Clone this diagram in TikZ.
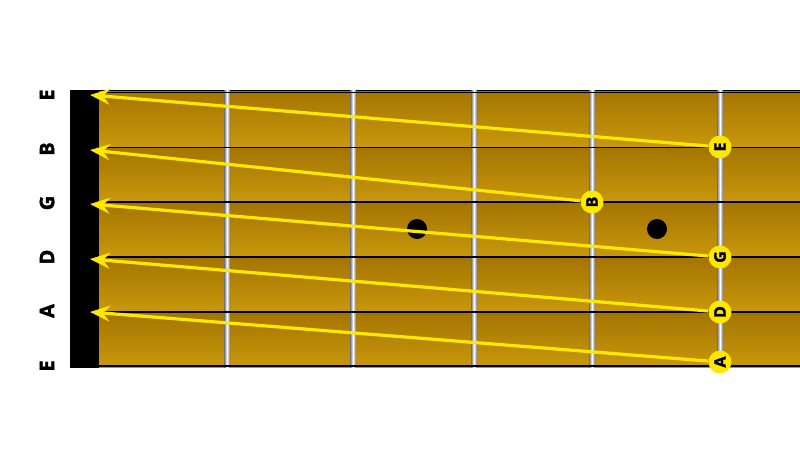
\documentclass[tikz,border=0pt]{standalone}
\usepackage{fontspec}
\setsansfont{Open Sans}
\newfontfamily\heavyfont[BoldFeatures={FakeBold=1.6}]{Open Sans}
\usetikzlibrary{arrows.meta}
\usetikzlibrary{positioning}
\definecolor{wooddark}{RGB}{164,116,2}
\definecolor{woodlight}{RGB}{200,152,12}
\definecolor{noteyellow}{RGB}{255,232,0}
\definecolor{fretgray}{RGB}{110,110,118}

\begin{document}
\begin{tikzpicture}[x=1pt,y=-1pt,
			every node/.style={inner sep=0pt},
			note/.style={circle,fill=noteyellow,minimum size=23pt,font=\heavyfont\bfseries\fontsize{16}{16}\selectfont,rotate=90},
			stringname/.style={font=\heavyfont\bfseries\fontsize{20}{20}\selectfont,rotate=90},
			slide/.style={-{Stealth[length=20pt,width=16pt,inset=7pt]},draw=noteyellow,fill=noteyellow,line width=3.2pt}]
			\useasboundingbox (0,0) rectangle (800,450);
			
			% wood, one strip per string
			\foreach \ya/\yb in {90/147,147/202,202/257,257/312,312/367}
			\shade[top color=wooddark,bottom color=woodlight] (99,\ya) rectangle (800,\yb);
			\draw[black,line width=0.8pt] (70,90) -- (800,90);
			
			% frets
			\foreach \fx in {227,353,474,592,720}
			\shade[left color=fretgray,right color=fretgray,middle color=white] (\fx-3,90) rectangle (\fx+3,367);
			
			% strings
			\foreach \sy/\sw in {92/0.8,147/1,202/1.3,257/1.7,312/2.1,366/2.6}
			\draw[black,line width=\sw pt] (99,\sy) -- (800,\sy);
			
			% nut
			\fill[black] (70,90) rectangle (99,368);
			
			% inlay dots
			\fill[black] (417,229) circle (10);
			\fill[black] (657,229) circle (10);
			
			% open string names
			\node[stringname] (lE1) at (47,95)  {E};
			\node[stringname] (lB)  at (47,149) {B};
			\node[stringname] (lG)  at (47,203) {G};
			\node[stringname] (lD)  at (47,257) {D};
			\node[stringname] (lA)  at (47,311) {A};
			\node[stringname] (lE6) at (47,366) {E};
			
			% arrow ends at the nut
			\coordinate (tE) at (90,95);
			\coordinate (tB) at (90,150);
			\coordinate (tG) at (90,204);
			\coordinate (tD) at (90,259);
			\coordinate (tA) at (90,312);
			
			% fretted notes
			\node[note] (nE) at (720,147) {E};
			\node[note] (nB) at (592,202) {B};
			\node[note] (nG) at (720,257) {G};
			\node[note] (nD) at (720,312) {D};
			\node[note] (nA) at (720,362) {A};
			
			\path[slide]
			(nE) edge (tE)
			(nB) edge (tB)
			(nG) edge (tG)
			(nD) edge (tD)
			(nA) edge (tA);
			\end{tikzpicture}
\end{document}
